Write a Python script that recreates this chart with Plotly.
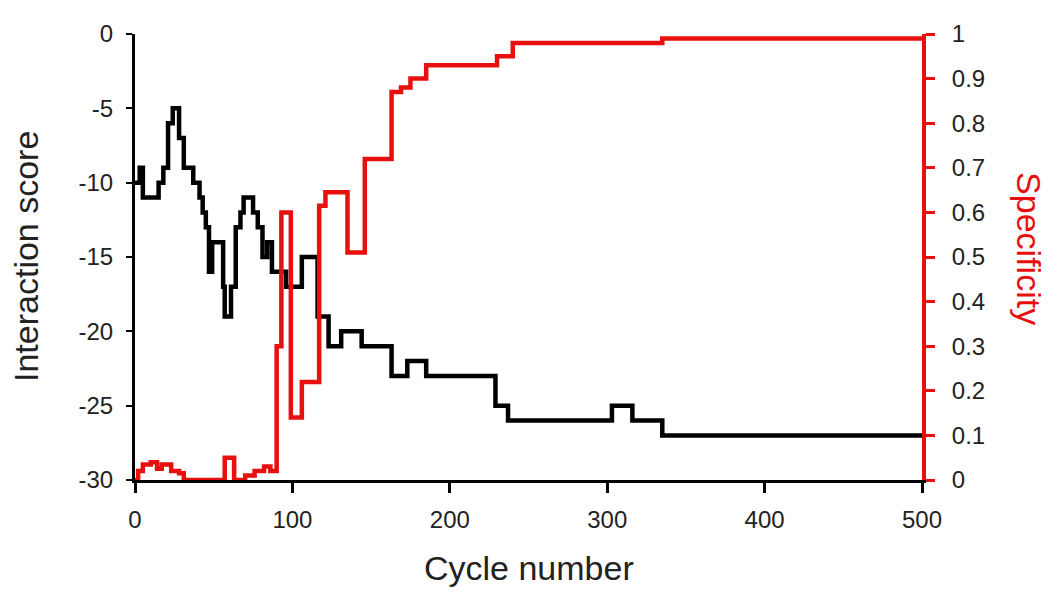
import plotly.graph_objects as go

# Interaction score (black, left axis) - step change points
score_cycle = [0, 3, 5, 15, 18, 21, 24, 28, 31, 37, 41, 43, 45, 47, 49, 56, 57, 61, 64, 67, 69, 75, 78, 81, 84, 87, 89, 96, 101, 106, 116, 123, 131, 144, 163, 173, 185, 229, 237, 303, 316, 335, 500]
score_value = [-10, -9, -11, -10, -9, -6, -5, -7, -9, -10, -11, -12, -13, -16, -14, -17, -19, -17, -13, -12, -11, -12, -13, -15, -14, -16, -16, -17, -17, -15, -19, -21, -20, -21, -23, -22, -23, -25, -26, -25, -26, -27, -27]

# Specificity (red, right axis) - step change points
spec_cycle = [0, 2, 5, 10, 14, 17, 23, 28, 31, 57, 63, 70, 76, 82, 86, 90, 93, 99, 106, 117, 121, 135, 146, 163, 169, 175, 185, 230, 240, 335, 500]
spec_value = [0, 0.02, 0.035, 0.04, 0.025, 0.035, 0.02, 0.015, 0, 0.05, 0, 0.01, 0.02, 0.03, 0.02, 0.3, 0.6, 0.14, 0.22, 0.615, 0.645, 0.51, 0.72, 0.87, 0.88, 0.9, 0.93, 0.95, 0.98, 0.99, 0.99]

left_ticks = [0, -5, -10, -15, -20, -25, -30]
left_labels = ["0", "-5", "-10", "-15", "-20", "-25", "-30"]
right_ticks = [0, 0.1, 0.2, 0.3, 0.4, 0.5, 0.6, 0.7, 0.8, 0.9, 1]
right_labels = ["0", "0.1", "0.2", "0.3", "0.4", "0.5", "0.6", "0.7", "0.8", "0.9", "1"]
x_ticks = [0, 100, 200, 300, 400, 500]

FONT = "Liberation Sans, Arial, sans-serif"
RED = "#e8100f"

fig = go.Figure()
fig.add_trace(go.Scatter(x=score_cycle, y=score_value, mode="lines",
                         line=dict(color="black", width=4.5, shape="hv"),
                         yaxis="y", showlegend=False))
fig.add_trace(go.Scatter(x=spec_cycle, y=spec_value, mode="lines",
                         line=dict(color=RED, width=4.5, shape="hv"),
                         yaxis="y2", showlegend=False))

# page body has an 8px margin, so the figure is sized/offset to compensate
fig.update_layout(
    width=1045, height=584,
    margin=dict(l=127, r=131, t=17, b=112),
    paper_bgcolor="white", plot_bgcolor="white",
    font=dict(family=FONT, size=24, color="#222"),
    xaxis=dict(range=[0, 500], tickvals=x_ticks, ticks="outside", ticklen=10, tickwidth=3,
               tickcolor="black", showline=True, linecolor="black", linewidth=3,
               showgrid=False, zeroline=False, ticklabelstandoff=6,
               tickfont=dict(size=24, family=FONT, color="#222")),
    yaxis=dict(range=[-30, 0], tickvals=left_ticks, ticktext=left_labels, ticks="outside",
               ticklen=6, tickwidth=2,
               tickcolor="black", showline=True, linecolor="black", linewidth=3,
               showgrid=False, zeroline=False, ticklabelstandoff=8,
               tickfont=dict(size=24, family=FONT, color="#222")),
    yaxis2=dict(range=[0, 1], tickvals=right_ticks, ticktext=right_labels, ticks="outside",
                ticklen=9, tickwidth=3,
                tickcolor=RED, showline=True, linecolor=RED, linewidth=4,
                showgrid=False, zeroline=False, overlaying="y", side="right",
                ticklabelstandoff=12,
                tickfont=dict(size=24, family=FONT, color="#222")),
    yaxis3=dict(range=[0, 1], tickvals=right_ticks, ticks="inside", ticklen=9, tickwidth=3,
                tickcolor=RED, showline=False, showticklabels=False,
                showgrid=False, zeroline=False, overlaying="y", side="right"),
    annotations=[
        dict(text="Cycle number", xref="paper", yref="paper", x=0.5, y=0, yshift=-88,
             xanchor="center", yanchor="middle", showarrow=False,
             font=dict(size=34, family=FONT, color="#222")),
        dict(text="Interaction score", xref="paper", yref="paper", x=0, y=0.5, xshift=-109,
             xanchor="center", yanchor="middle", textangle=-90, showarrow=False,
             font=dict(size=34, family=FONT, color="#222")),
        dict(text="Specificity", xref="paper", yref="paper", x=1, y=0.52, xshift=107,
             xanchor="center", yanchor="middle", textangle=90, showarrow=False,
             font=dict(size=34, family=FONT, color=RED)),
    ],
)

fig.write_html("out.html")
